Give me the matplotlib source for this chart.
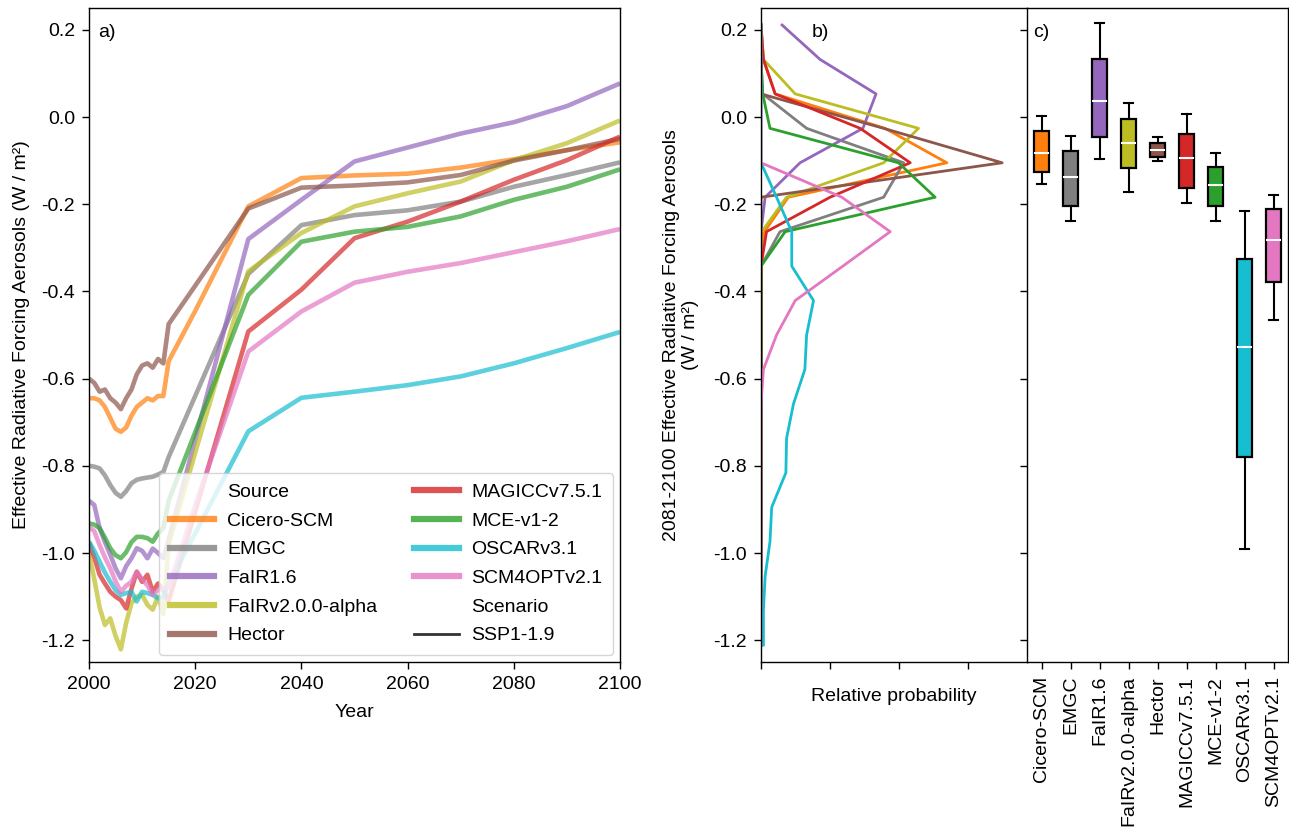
import matplotlib
matplotlib.use('Agg')
import matplotlib.pyplot as plt
from matplotlib.lines import Line2D
import matplotlib.ticker as mticker

plt.rcParams['font.family'] = ['Liberation Sans', 'DejaVu Sans']
plt.rcParams['font.size'] = 14
plt.rcParams['axes.unicode_minus'] = False

# ---------------- data ----------------
models = ['Cicero-SCM', 'EMGC', 'FaIR1.6', 'FaIRv2.0.0-alpha', 'Hector',
          'MAGICCv7.5.1', 'MCE-v1-2', 'OSCARv3.1', 'SCM4OPTv2.1']
colors = ['#ff7f0e', '#7f7f7f', '#9467bd', '#bcbd22', '#8c564b',
          '#d62728', '#2ca02c', '#17becf', '#e377c2']

years = [2000, 2001, 2002, 2003, 2004, 2005, 2006, 2007, 2008, 2009, 2010,
         2011, 2012, 2013, 2014, 2015, 2020, 2030, 2040, 2050, 2060, 2070,
         2080, 2090, 2100]

erf_cicero = [-0.645, -0.645, -0.650, -0.665, -0.690, -0.715, -0.722, -0.712, -0.685,
              -0.665, -0.655, -0.645, -0.650, -0.640, -0.640, -0.560, -0.445, -0.205,
              -0.140, -0.134, -0.130, -0.116, -0.097, -0.076, -0.058]
erf_emgc = [-0.800, -0.802, -0.806, -0.822, -0.844, -0.862, -0.871, -0.858, -0.840,
            -0.832, -0.829, -0.827, -0.825, -0.820, -0.814, -0.780, -0.640, -0.360,
            -0.248, -0.225, -0.214, -0.194, -0.160, -0.133, -0.104]
erf_fair16 = [-0.880, -0.890, -0.943, -0.975, -1.004, -1.035, -1.058, -1.030, -1.012,
              -0.989, -0.995, -1.012, -0.990, -1.000, -1.012, -0.970, -0.740, -0.280,
              -0.190, -0.102, -0.070, -0.038, -0.012, 0.025, 0.077]
erf_fair2 = [-1.000, -1.060, -1.125, -1.165, -1.150, -1.190, -1.221, -1.160, -1.115,
             -1.100, -1.096, -1.119, -1.130, -1.100, -1.140, -0.980, -0.770, -0.354,
             -0.266, -0.205, -0.175, -0.148, -0.099, -0.060, -0.008]
erf_hector = [-0.600, -0.610, -0.630, -0.625, -0.645, -0.655, -0.670, -0.645, -0.625,
              -0.590, -0.570, -0.565, -0.575, -0.555, -0.565, -0.475, -0.387, -0.210,
              -0.162, -0.157, -0.150, -0.133, -0.100, -0.076, -0.050]
erf_magicc = [-0.975, -1.010, -1.050, -1.070, -1.089, -1.100, -1.108, -1.127, -1.082,
              -1.043, -1.066, -1.050, -1.089, -1.070, -1.085, -1.110, -0.905, -0.492,
              -0.396, -0.278, -0.240, -0.194, -0.144, -0.099, -0.045]
erf_mce = [-0.932, -0.935, -0.943, -0.965, -0.989, -1.005, -1.012, -0.998, -0.975,
           -0.963, -0.963, -0.966, -0.974, -0.955, -0.943, -0.880, -0.723, -0.408,
           -0.286, -0.263, -0.252, -0.228, -0.190, -0.160, -0.120]
erf_oscar = [-0.974, -0.995, -1.020, -1.045, -1.066, -1.085, -1.096, -1.092, -1.089,
             -1.111, -1.089, -1.092, -1.096, -1.104, -1.100, -1.070, -0.955, -0.721,
             -0.644, -0.630, -0.615, -0.595, -0.565, -0.530, -0.493]
erf_scm4opt = [-0.940, -0.950, -0.982, -1.010, -1.035, -1.065, -1.089, -1.075, -1.066,
               -1.043, -1.060, -1.074, -1.096, -1.085, -1.081, -1.080, -0.890, -0.538,
               -0.446, -0.380, -0.355, -0.335, -0.310, -0.285, -0.257]
erf_series = [erf_cicero, erf_emgc, erf_fair16, erf_fair2, erf_hector,
              erf_magicc, erf_mce, erf_oscar, erf_scm4opt]

# panel b: relative probability at bin centres (W/m2), bottom to top
bin_centres = [-1.211, -1.132, -1.053, -0.974, -0.895, -0.816, -0.737, -0.658, -0.579,
               -0.500, -0.421, -0.342, -0.263, -0.184, -0.105, -0.026, 0.053, 0.132, 0.211]
prob_cicero = [0, 0, 0, 0, 0, 0, 0, 0, 0, 0, 0, 0, 0.10, 0.79, 5.38, 3.59, 0.41, 0.07, 0]
prob_emgc = [0, 0, 0, 0, 0, 0, 0, 0, 0, 0, 0, 0, 0.55, 3.55, 4.13, 1.32, 0.05, 0, 0]
prob_fair16 = [0, 0, 0, 0, 0, 0, 0, 0, 0, 0, 0, 0, 0, 0.12, 1.13, 2.95, 3.33, 1.71, 0.61]
prob_fair2 = [0, 0, 0, 0, 0, 0, 0, 0, 0, 0, 0, 0, 0.02, 0.74, 3.55, 4.56, 0.99, 0.07, 0]
prob_hector = [0, 0, 0, 0, 0, 0, 0, 0, 0, 0, 0, 0, 0, 0, 6.98, 3.55, 0, 0, 0]
prob_magicc = [0, 0, 0, 0, 0, 0, 0, 0, 0, 0, 0, 0, 0.16, 2.00, 4.32, 2.87, 0.41, 0.07, 0]
prob_mce = [0, 0, 0, 0, 0, 0, 0, 0, 0, 0, 0, 0, 0.70, 5.04, 3.98, 0.26, 0.05, 0, 0]
prob_oscar = [0.07, 0.07, 0.12, 0.26, 0.31, 0.72, 0.74, 0.94, 1.27, 1.32, 1.52, 0.89,
              0.89, 0.45, 0, 0, 0, 0, 0]
prob_scm4opt = [0, 0, 0, 0, 0, 0, 0, 0, 0.07, 0.45, 0.99, 2.37, 3.74, 2.34, 0, 0, 0, 0, 0]
prob_series = [prob_cicero, prob_emgc, prob_fair16, prob_fair2, prob_hector,
               prob_magicc, prob_mce, prob_oscar, prob_scm4opt]

# panel c: box statistics (2081-2100 ERF aerosols)
box_whislo = [-0.154, -0.238, -0.096, -0.173, -0.101, -0.198, -0.238, -0.990, -0.465]
box_q1 = [-0.126, -0.203, -0.047, -0.118, -0.091, -0.162, -0.203, -0.780, -0.379]
box_med = [-0.082, -0.137, 0.036, -0.060, -0.076, -0.095, -0.157, -0.528, -0.282]
box_q3 = [-0.031, -0.079, 0.132, -0.005, -0.060, -0.038, -0.114, -0.325, -0.211]
box_whishi = [0.002, -0.043, 0.215, 0.032, -0.047, 0.008, -0.082, -0.216, -0.180]

yticks = [0.2, 0.0, -0.2, -0.4, -0.6, -0.8, -1.0, -1.2]
ylims = (-1.25, 0.25)

# ---------------- figure ----------------
W, H = 1289, 831
fig = plt.figure(figsize=(W / 100, H / 100), dpi=100)


def rect(l, r, t, b):
    return [l / W, 1 - b / H, (r - l) / W, (b - t) / H]


ax_a = fig.add_axes(rect(89, 620, 8, 662))
ax_b = fig.add_axes(rect(761, 1027, 8, 662))
ax_c = fig.add_axes(rect(1027, 1288, 8, 662))

for ax in (ax_a, ax_b, ax_c):
    ax.tick_params(direction='out', length=5, width=1.0, pad=5)
    for s in ax.spines.values():
        s.set_linewidth(1.0)

# panel a
for name, col, vals in zip(models, colors, erf_series):
    ax_a.plot(years, vals, color=col, lw=3.3, alpha=0.7, solid_capstyle='butt')
ax_a.set_xlim(2000, 2100)
ax_a.set_ylim(*ylims)
ax_a.set_yticks(yticks)
ax_a.yaxis.set_major_formatter(mticker.FormatStrFormatter('%.1f'))
ax_a.set_xticks([2000, 2020, 2040, 2060, 2080, 2100])
ax_a.set_xlabel('Year', labelpad=8)
ax_a.set_ylabel('Effective Radiative Forcing Aerosols (W / m²)', labelpad=8)
ax_a.text(0.017, 0.962, 'a)', transform=ax_a.transAxes, ha='left', va='center')

blank = Line2D([], [], color='none')
handles = [blank]
labels = ['Source']
for name, col in zip(models, colors):
    handles.append(Line2D([], [], color=col, lw=4.5, alpha=0.8))
    labels.append(name)
handles += [blank, Line2D([], [], color='#333333', lw=2)]
labels += ['Scenario', 'SSP1-1.9']
ax_a.legend(handles, labels, ncol=2, loc='lower right', fontsize=14,
            handlelength=2.3, handletextpad=0.65, columnspacing=1.9,
            labelspacing=0.57, borderaxespad=0.35, borderpad=0.55, framealpha=0.8)

# panel b
for name, col, p in zip(models, colors, prob_series):
    ax_b.plot(p, bin_centres, color=col, lw=2.0)
ax_b.set_ylim(*ylims)
ax_b.set_xlim(0, 7.7)
ax_b.set_yticks(yticks)
ax_b.yaxis.set_major_formatter(mticker.FormatStrFormatter('%.1f'))
ax_b.set_xticks([0, 2, 4, 6])
ax_b.set_xticklabels([])
ax_b.set_xlabel('Relative probability', labelpad=9)
ax_b.set_ylabel('2081-2100 Effective Radiative Forcing Aerosols\n(W / m²)', labelpad=10)
ax_b.spines['right'].set_visible(False)
ax_b.text(0.19, 0.962, 'b)', transform=ax_b.transAxes, ha='left', va='center')

# panel c
stats = []
for i, name in enumerate(models):
    stats.append(dict(label=name, whislo=box_whislo[i], q1=box_q1[i], med=box_med[i],
                      q3=box_q3[i], whishi=box_whishi[i]))
bp = ax_c.bxp(stats, positions=list(range(1, 10)), widths=0.5, patch_artist=True,
              showfliers=False, capwidths=0.3,
              boxprops=dict(linewidth=1.6, edgecolor='black'),
              medianprops=dict(color='white', linewidth=1.5),
              whiskerprops=dict(linewidth=1.5, color='black'),
              capprops=dict(linewidth=1.5, color='black'))
for patch, col in zip(bp['boxes'], colors):
    patch.set_facecolor(col)
ax_c.set_xlim(0.5, 9.5)
ax_c.set_ylim(*ylims)
ax_c.set_yticks(yticks)
ax_c.tick_params(axis='y', labelleft=False)
ax_c.set_xticks(list(range(1, 10)))
ax_c.set_xticklabels(models, rotation=90)
ax_c.text(0.025, 0.962, 'c)', transform=ax_c.transAxes, ha='left', va='center')

fig.savefig('out.png', dpi=100)
